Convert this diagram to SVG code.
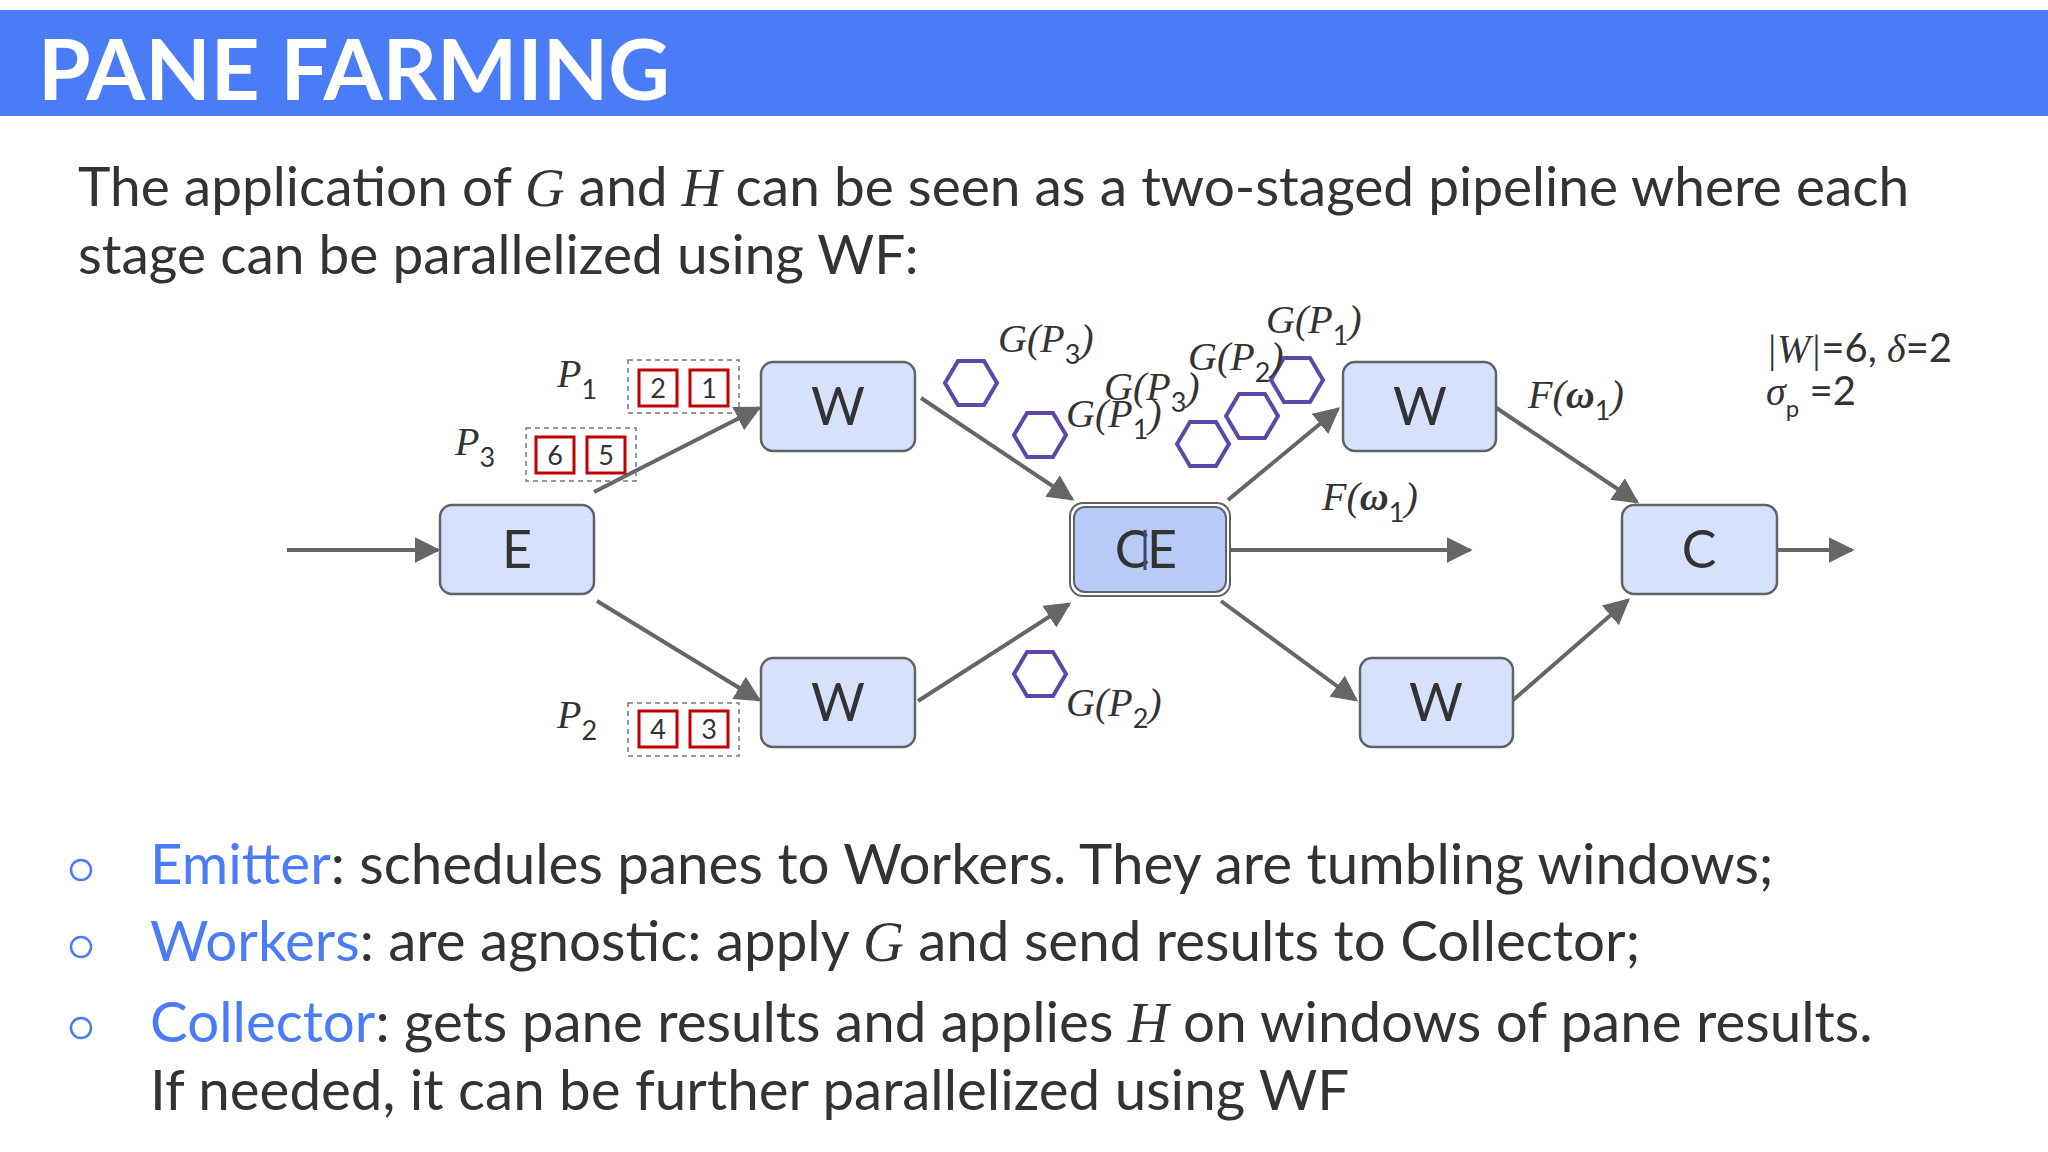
<svg xmlns="http://www.w3.org/2000/svg" width="2048" height="1152" viewBox="0 0 2048 1152">
<style>
.t{font-family:Lato,"Open Sans",sans-serif;fill:#333}
.box{fill:#d6e2fb;stroke:#5f6368;stroke-width:2.5}
.bl{font-family:Lato,sans-serif;font-size:52px;fill:#333;text-anchor:middle}
.e{stroke:#666;stroke-width:4;fill:none}
.hx{fill:none;stroke:#5b48a8;stroke-width:4}
.m{font-family:"Liberation Serif",serif;font-style:italic;font-size:40px;fill:#333}
.sq{fill:#fff;stroke:#c00000;stroke-width:3}
.dg{fill:none;stroke:#777;stroke-width:1.5;stroke-dasharray:5,4}
.sn{font-family:Lato,sans-serif;font-size:27px;fill:#333;text-anchor:middle}
.kw{fill:#4a7cf7}
</style>
<defs>
<marker id="a" viewBox="0 0 10 10" refX="9" refY="5" markerWidth="6.5" markerHeight="6.5" orient="auto"><path d="M0,0L10,5L0,10z" fill="#666"/></marker>
<marker id="ab" viewBox="0 0 10 10" refX="9" refY="5" markerWidth="6.5" markerHeight="6.5" orient="auto"><path d="M0,0L10,5L0,10z" fill="#666"/></marker>
<polygon id="hex" points="-13,-22 13,-22 26,0 13,22 -13,22 -26,0" class="hx"/>
</defs>
<rect x="0" y="0" width="2048" height="1152" fill="#fff"/>
<rect x="0" y="10" width="2048" height="106" fill="#4a7cf7"/>
<text x="38" y="100" font-family="Lato,sans-serif" font-size="85" font-weight="bold" fill="#fff">PANE FARMING</text>
<text class="t" x="78" y="206" font-size="55">The application of <tspan font-family="Liberation Serif" font-style="italic">G</tspan> and <tspan font-family="Liberation Serif" font-style="italic">H</tspan> can be seen as a two-staged pipeline where each</text>
<text class="t" x="78" y="274" font-size="55">stage can be parallelized using WF:</text>

<g id="connectors">
<line class="e" x1="287" y1="550" x2="438" y2="550" marker-end="url(#ab)" stroke-width="6"/>
<line class="e" x1="594" y1="492" x2="759" y2="408" marker-end="url(#a)"/>
<line class="e" x1="597" y1="601" x2="759" y2="700" marker-end="url(#a)"/>
<line class="e" x1="921" y1="398" x2="1072" y2="499" marker-end="url(#a)"/>
<line class="e" x1="918" y1="701" x2="1069" y2="604" marker-end="url(#a)"/>
<line class="e" x1="1228" y1="500" x2="1338" y2="409" marker-end="url(#a)"/>
<line class="e" x1="1221" y1="601" x2="1356" y2="700" marker-end="url(#a)"/>
<line class="e" x1="1230" y1="550" x2="1470" y2="550" marker-end="url(#ab)" stroke-width="6"/>
<line class="e" x1="1495" y1="407" x2="1637" y2="502" marker-end="url(#a)"/>
<line class="e" x1="1512" y1="701" x2="1628" y2="600" marker-end="url(#a)"/>
<line class="e" x1="1777" y1="550" x2="1852" y2="550" marker-end="url(#ab)" stroke-width="6"/>
</g>

<g id="E"><rect class="box" x="440" y="505" width="154" height="89" rx="12"/><text class="bl" x="517" y="568">E</text></g>
<g id="W1"><rect class="box" x="761" y="362" width="154" height="89" rx="12"/><text class="bl" x="838" y="425">W</text></g>
<g id="W2"><rect class="box" x="761" y="658" width="154" height="89" rx="12"/><text class="bl" x="838" y="721">W</text></g>
<g id="CE"><rect x="1070" y="503" width="160" height="93" rx="13" fill="none" stroke="#5f6368" stroke-width="2"/><rect x="1074" y="507" width="152" height="85" rx="11" fill="#b8cbf6" stroke="#5f6368" stroke-width="2"/><text class="bl" x="1132" y="568">C</text><text class="bl" x="1162" y="568">E</text><line x1="1145" y1="530" x2="1145" y2="570" stroke="#3a4a6a" stroke-width="3"/></g>
<g id="W3"><rect class="box" x="1343" y="362" width="153" height="89" rx="12"/><text class="bl" x="1420" y="425">W</text></g>
<g id="W4"><rect class="box" x="1360" y="658" width="153" height="89" rx="12"/><text class="bl" x="1436" y="721">W</text></g>
<g id="C"><rect class="box" x="1622" y="505" width="155" height="89" rx="12"/><text class="bl" x="1699" y="568">C</text></g>

<g id="panes">
<rect class="dg" x="628" y="360" width="111" height="53"/>
<rect class="sq" x="639" y="370" width="38" height="36"/><text class="sn" x="658" y="398">2</text>
<rect class="sq" x="690" y="370" width="38" height="36"/><text class="sn" x="709" y="398">1</text>
<rect class="dg" x="526" y="428" width="110" height="53"/>
<rect class="sq" x="536" y="437" width="38" height="36"/><text class="sn" x="555" y="465">6</text>
<rect class="sq" x="587" y="437" width="38" height="36"/><text class="sn" x="606" y="465">5</text>
<rect class="dg" x="628" y="703" width="111" height="53"/>
<rect class="sq" x="639" y="711" width="38" height="36"/><text class="sn" x="658" y="739">4</text>
<rect class="sq" x="690" y="711" width="38" height="36"/><text class="sn" x="709" y="739">3</text>
<text class="m" x="557" y="387">P<tspan font-style="normal" font-family="Lato" font-size="27" dy="12">1</tspan></text>
<text class="m" x="455" y="455">P<tspan font-style="normal" font-family="Lato" font-size="27" dy="12">3</tspan></text>
<text class="m" x="557" y="728">P<tspan font-style="normal" font-family="Lato" font-size="27" dy="12">2</tspan></text>
</g>

<g id="results">
<use href="#hex" x="971" y="383"/>
<use href="#hex" x="1040" y="435"/>
<use href="#hex" x="1040" y="674"/>
<use href="#hex" x="1203" y="444"/>
<use href="#hex" x="1252" y="416"/>
<use href="#hex" x="1297" y="380"/>
<text class="m" x="998" y="352">G(P<tspan font-style="normal" font-family="Lato" font-size="27" dy="12">3</tspan><tspan dy="-12">)</tspan></text>
<text class="m" x="1066" y="427">G(P<tspan font-style="normal" font-family="Lato" font-size="27" dy="12">1</tspan><tspan dy="-12">)</tspan></text>
<text class="m" x="1104" y="400">G(P<tspan font-style="normal" font-family="Lato" font-size="27" dy="12">3</tspan><tspan dy="-12">)</tspan></text>
<text class="m" x="1188" y="370">G(P<tspan font-style="normal" font-family="Lato" font-size="27" dy="12">2</tspan><tspan dy="-12">)</tspan></text>
<text class="m" x="1266" y="333">G(P<tspan font-style="normal" font-family="Lato" font-size="27" dy="12">1</tspan><tspan dy="-12">)</tspan></text>
<text class="m" x="1066" y="716">G(P<tspan font-style="normal" font-family="Lato" font-size="27" dy="12">2</tspan><tspan dy="-12">)</tspan></text>
<text class="m" x="1528" y="408">F(<tspan font-weight="bold">ω</tspan><tspan font-style="normal" font-family="Lato" font-size="27" dy="12">1</tspan><tspan dy="-12">)</tspan></text>
<text class="m" x="1322" y="510">F(<tspan font-weight="bold">ω</tspan><tspan font-style="normal" font-family="Lato" font-size="27" dy="12">1</tspan><tspan dy="-12">)</tspan></text>
<text class="m" x="1766" y="362" font-size="33">|W|<tspan font-style="normal" font-family="Lato">=6, </tspan>δ<tspan font-style="normal" font-family="Lato">=2</tspan></text>
<text class="m" x="1766" y="405" font-size="33">σ<tspan font-style="normal" font-family="Lato" font-size="24" dy="12">p</tspan><tspan font-style="normal" font-family="Lato" dy="-12"> =2</tspan></text>
</g>

<g id="bullets" class="t" font-size="56.5">
<circle cx="81" cy="870" r="10" fill="none" stroke="#4a7cf7" stroke-width="2.5"/>
<circle cx="81" cy="947" r="10" fill="none" stroke="#4a7cf7" stroke-width="2.5"/>
<circle cx="81" cy="1028" r="10" fill="none" stroke="#4a7cf7" stroke-width="2.5"/>
<text x="150" y="884"><tspan class="kw">Emitter</tspan>: schedules panes to Workers. They are tumbling windows;</text>
<text x="150" y="961"><tspan class="kw">Workers</tspan>: are agnostic: apply <tspan font-family="Liberation Serif" font-style="italic">G</tspan> and send results to Collector;</text>
<text x="150" y="1042"><tspan class="kw">Collector</tspan>: gets pane results and applies <tspan font-family="Liberation Serif" font-style="italic">H</tspan> on windows of pane results.</text>
<text x="150" y="1110">If needed, it can be further parallelized using WF</text>
</g>
</svg>
